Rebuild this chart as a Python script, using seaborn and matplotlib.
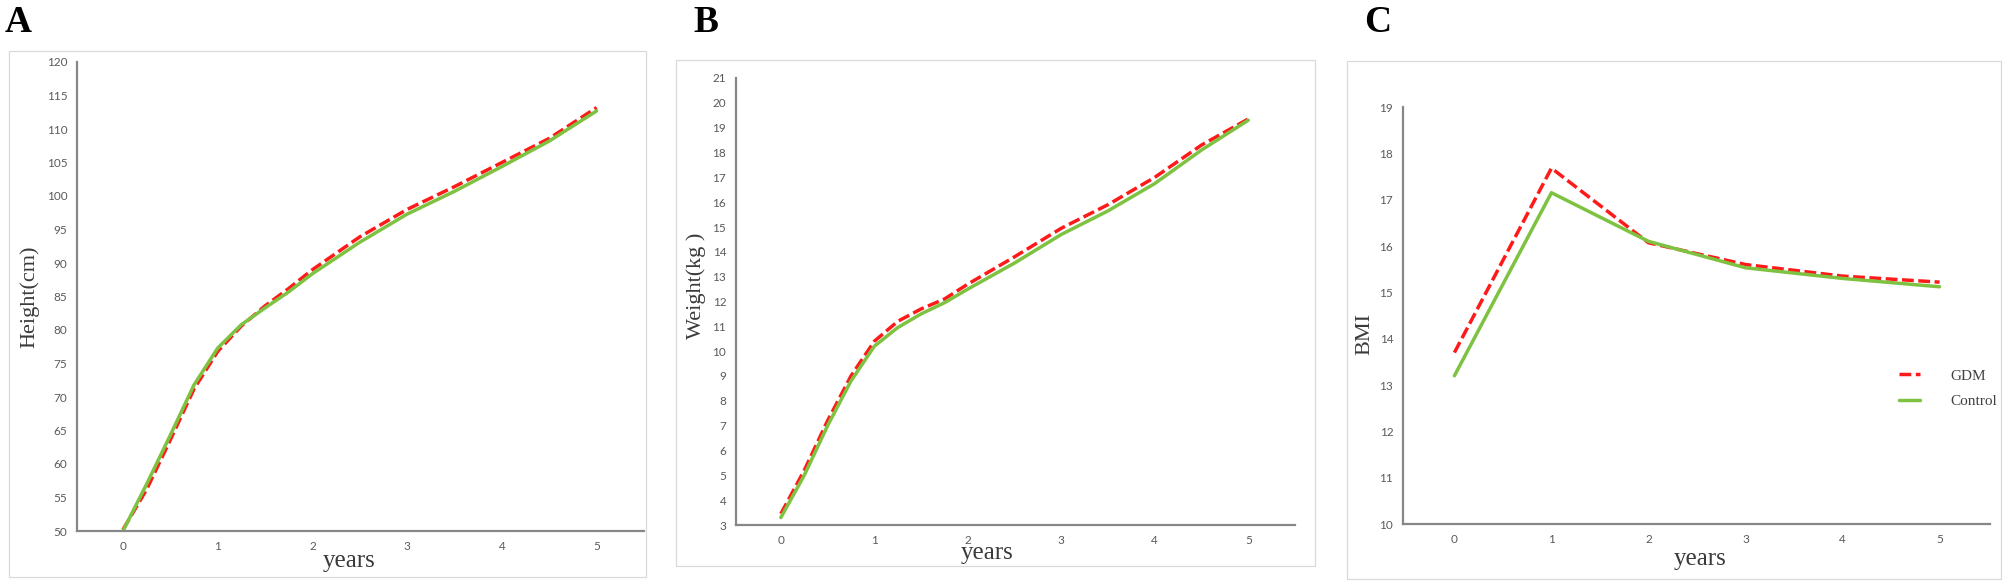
import matplotlib
matplotlib.use("Agg")
import matplotlib.pyplot as plt
from matplotlib.patches import Rectangle
import seaborn as sns
import pandas as pd

# growth data (years since birth)
years_hw = [0, 0.25, 0.5, 0.75, 1, 1.25, 1.5, 1.75, 2, 2.5, 3, 3.5, 4, 4.5, 5]
height_gdm = [50.2, 56.2, 63.6, 71.2, 76.8, 80.6, 83.6, 86.2, 89.0, 93.9, 98.0, 101.4, 105.0, 108.6, 113.2]
height_ctrl = [50.0, 57.0, 64.3, 71.8, 77.3, 80.8, 83.3, 85.7, 88.4, 93.1, 97.3, 100.7, 104.4, 108.2, 112.7]
weight_gdm = [3.45, 5.2, 7.2, 9.0, 10.4, 11.2, 11.7, 12.1, 12.7, 13.8, 14.95, 15.9, 17.0, 18.3, 19.35]
weight_ctrl = [3.3, 5.0, 7.0, 8.8, 10.2, 10.95, 11.5, 11.95, 12.5, 13.55, 14.7, 15.65, 16.75, 18.1, 19.3]
years_bmi = [0, 1, 2, 3, 4, 5]
bmi_gdm = [13.7, 17.68, 16.07, 15.6, 15.35, 15.22]
bmi_ctrl = [13.2, 17.15, 16.1, 15.53, 15.3, 15.12]
groups = ["GDM", "Control"]

W, H = 2007, 584

sns.set_theme(style="white")
plt.rcParams["font.family"] = ["Liberation Serif", "DejaVu Serif"]

fig = plt.figure(figsize=(W / 100, H / 100), dpi=100)
fig.patch.set_facecolor("white")


def long_df(x, a, b):
    return pd.DataFrame({
        "years": list(x) * 2,
        "value": list(a) + list(b),
        "group": [groups[0]] * len(x) + [groups[1]] * len(x),
    })


def px_axes(l, t, r, b):
    return fig.add_axes([l / W, 1 - b / H, (r - l) / W, (b - t) / H])


def frame(l, t, r, b):
    fig.add_artist(Rectangle((l / W, 1 - b / H), (r - l) / W, (b - t) / H,
                             transform=fig.transFigure, fill=False,
                             edgecolor="#d9d9d9", linewidth=0.9))


palette = {"GDM": "#ff1a1a", "Control": "#7ec242"}
dashes = {"GDM": (3.4, 1.3), "Control": ""}

panels = [
    dict(box=(9, 51, 646, 577), ax=(77, 62, 644, 531), letter=("A", 5),
         x=years_hw, a=height_gdm, b=height_ctrl, ylim=(50, 120), step=5,
         xlim=(-0.485, 5.5), ylabel="Height(cm)", ylab=(-0.083, 0.50), xlab=(0.48, -0.064)),
    dict(box=(676, 60, 1315, 566), ax=(736, 78, 1295, 525), letter=("B", 693),
         x=years_hw, a=weight_gdm, b=weight_ctrl, ylim=(3, 21), step=1,
         xlim=(-0.48, 5.5), ylabel="Weight(kg )", ylab=(-0.072, 0.535), xlab=(0.45, -0.063)),
    dict(box=(1347, 61, 2001, 579), ax=(1403, 107, 1990, 524), letter=("C", 1364),
         x=years_bmi, a=bmi_gdm, b=bmi_ctrl, ylim=(10, 19), step=1,
         xlim=(-0.53, 5.52), ylabel="BMI", ylab=(-0.065, 0.456), xlab=(0.506, -0.084)),
]

for i, p in enumerate(panels):
    frame(*p["box"])
    ax = px_axes(*p["ax"])
    df = long_df(p["x"], p["a"], p["b"])
    sns.lineplot(data=df, x="years", y="value", hue="group", style="group",
                 hue_order=groups, style_order=groups, palette=palette,
                 dashes=dashes, linewidth=2.5, ax=ax, legend=(i == 2))
    ax.set_xlim(*p["xlim"])
    ax.set_ylim(*p["ylim"])
    ax.set_xticks(range(6))
    lo, hi = p["ylim"]
    ax.set_yticks(range(lo, hi + 1, p["step"]))
    for s in ["top", "right"]:
        ax.spines[s].set_visible(False)
    for s in ["left", "bottom"]:
        ax.spines[s].set_color("#878787")
        ax.spines[s].set_linewidth(1.6)
    ax.tick_params(length=0, pad=7, labelsize=8.5, labelcolor="#5a5a5a")
    for lab in ax.get_xticklabels() + ax.get_yticklabels():
        lab.set_family(["Lato", "DejaVu Sans"])
    ax.set_xlabel("years", fontsize=18, color="#3a3a3a")
    ax.xaxis.set_label_coords(*p["xlab"])
    ax.xaxis.label.set_va("center")
    ax.set_ylabel(p["ylabel"], fontsize=16, color="#3a3a3a")
    ax.yaxis.set_label_coords(*p["ylab"])
    ax.yaxis.label.set_va("center")
    ax.set_facecolor("none")
    fig.text(p["letter"][1] / W, 1 - 32 / H, p["letter"][0], fontsize=27,
             fontweight="bold", ha="left", va="baseline", color="black")
    if i == 2:
        sns.move_legend(ax, "upper left", bbox_to_anchor=(1899 / W, 1 - 369 / H),
                        bbox_transform=fig.transFigure, frameon=False, title=None,
                        fontsize=11, handlelength=1.35, handletextpad=2.0,
                        labelspacing=0.75, borderpad=0, borderaxespad=0)
        for t in ax.get_legend().get_texts():
            t.set_color("#404040")

fig.savefig("out.png", dpi=100, facecolor="white")
